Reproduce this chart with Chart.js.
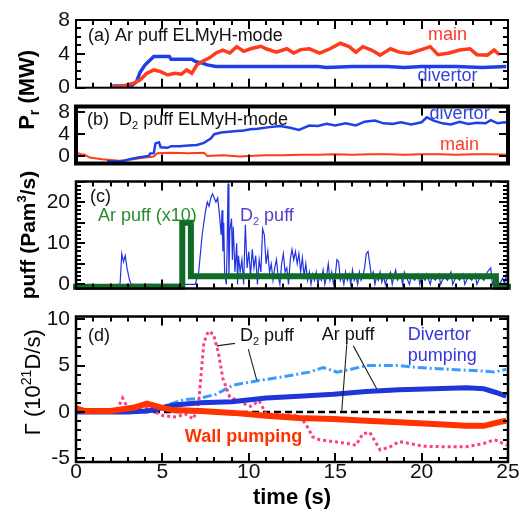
<!DOCTYPE html>
<html>
<head>
<meta charset="utf-8">
<script src="https://cdn.jsdelivr.net/npm/chart.js@4.4.1/dist/chart.umd.min.js"></script>
<style>
  body { margin: 0; background: #fff; }
  #wrap { position: relative; width: 532px; height: 510px; overflow: hidden; }
  canvas { position: absolute; left: 0; }
</style>
</head>
<body>
<div id="wrap">
  <canvas id="pa" width="532" height="175" style="top:0px"></canvas>
  <canvas id="pb" width="532" height="90" style="top:90px"></canvas>
  <canvas id="pc" width="532" height="140" style="top:165px"></canvas>
  <canvas id="pd" width="532" height="210" style="top:300px"></canvas>
</div>
<script>
// tick labels
const timeTicks = [0, 5, 10, 15, 20, 25];
const prTicks = [0, 4, 8];
const puffTicks = [0, 10, 20];
const gammaTicks = [-5, 0, 5, 10];

// (a) Ar puff: radiated power (MW)
const tA_main = [2.0, 2.7, 2.9, 3.3, 3.7, 4.1, 4.5, 4.9, 5.3, 5.7,
  6.1, 6.4, 6.7, 7.0, 7.3, 7.7, 8.1, 8.5, 8.9, 9.3,
  9.7, 10.1, 10.7, 11.0, 11.6, 12.2, 12.6, 13.0, 13.5, 14.1,
  14.7, 15.3, 15.8, 16.2, 16.6, 17.1, 17.6, 18.2, 18.7, 19.3,
  19.9, 20.5, 20.95, 21.6, 22.2, 22.8, 23.2, 23.8, 24.2, 24.5];
const pA_main = [0.1, 0.1, 0.3, 0.5, 0.9, 1.7, 2.1, 1.9, 1.5, 1.7,
  1.6, 2.1, 1.7, 2.7, 3.1, 3.5, 4.1, 4.45, 4.1, 4.85,
  4.3, 4.6, 4.9, 4.6, 4.2, 4.6, 4.1, 4.5, 4.6, 4.1,
  4.6, 5.25, 4.85, 4.2, 4.85, 4.45, 3.85, 4.6, 4.2, 4.05,
  4.45, 4.85, 3.9, 4.1, 4.45, 4.6, 3.9, 3.85, 4.45, 3.9];
const tA_div = [2.1, 3.2, 3.5, 3.7, 4.0, 4.2, 4.5, 5.4, 5.5, 6.7,
  6.9, 7.3, 7.6, 8.1, 10, 12, 14, 14.5, 16, 18,
  19, 20, 22, 23.5, 24.9];
const pA_div = [0.2, 0.2, 0.7, 1.8, 2.7, 3.1, 3.7, 3.7, 3.35, 3.35,
  3.1, 2.9, 2.7, 2.5, 2.5, 2.5, 2.5, 2.4, 2.5, 2.5,
  2.4, 2.5, 2.5, 2.4, 2.5];

// (b) D2 puff: radiated power (MW)
const tB_div = [1.8, 2.7, 3.1, 3.6, 4.2, 4.3, 4.5, 4.6, 4.8, 4.9,
  5.3, 5.5, 6.0, 6.5, 7.0, 7.4, 7.8, 8.0, 8.4, 9.0,
  9.7, 10.1, 10.5, 11.2, 11.8, 12.4, 12.9, 13.5, 14.0, 14.5,
  15.0, 15.6, 16.2, 16.7, 17.3, 17.8, 18.3, 18.8, 19.4, 20.0,
  20.3, 20.7, 21.2, 21.7, 22.2, 22.7, 23.2, 23.7, 24.0, 24.4,
  24.8, 25.0];
const pB_div = [-1.0, -1.0, -0.6, -0.3, 0.0, 0.45, 0.5, 2.3, 2.5, 1.6,
  1.5, 1.8, 1.8, 1.9, 2.0, 2.4, 3.2, 4.0, 4.3, 4.5,
  4.7, 4.9, 5.0, 5.3, 5.5, 5.2, 4.8, 5.6, 5.5, 5.9,
  5.6, 6.0, 5.6, 6.3, 6.5, 6.0, 5.9, 6.2, 5.8, 6.2,
  7.1, 6.5, 6.0, 5.8, 6.3, 5.9, 6.1, 6.0, 6.6, 6.0,
  6.2, 6.1];
const tB_main = [0, 0.3, 0.5, 0.8, 1.5, 2.5, 3.3, 4.0, 4.5, 4.7,
  5.5, 6.5, 7.4, 7.6, 8.5, 9.5, 10, 11, 12, 13,
  14, 15, 16, 17, 18, 19, 20, 21, 22, 23, 24, 25];
const pB_main = [0.6, 0.3, 0.2, -0.3, -0.6, -0.9, -0.6, -0.3, -0.1, 0.5,
  0.6, 0.5, 0.6, 0.0, 0.1, -0.1, 0.0, 0.1, 0.1, 0.2,
  0.2, 0.3, 0.2, 0.3, 0.3, 0.2, 0.3, 0.3, 0.2, 0.3, 0.3, 0.2];

// (c) gas puff (Pam3/s)
const tPuffAr = [0, 6.15, 6.15, 6.65, 6.65, 24.3, 24.3, 25];
const puffAr = [-0.6, -0.6, 15, 15, 2, 2, -0.6, -0.6];
const tPuffD2 = [2.4, 2.55, 2.65, 2.75, 2.85, 2.95, 3.1, 3.2, 6.9, 7.1,
  7.3, 7.5, 7.6, 7.7, 7.8, 7.9, 8.0, 8.1, 8.2, 8.3,
  8.4, 8.45, 8.5, 8.55, 8.6, 8.7, 8.75, 8.8, 8.85, 8.9,
  9.0, 9.05, 9.1, 9.2, 9.3, 9.35, 9.4, 9.5, 9.6, 9.7,
  9.8, 9.9, 10.0, 10.1, 10.2, 10.3, 10.4, 10.5, 10.6, 10.7,
  10.8, 10.9, 11.0, 11.1, 11.2, 11.3, 11.4, 11.5, 11.6, 11.7,
  11.8, 11.9, 12.0, 12.1, 12.2, 12.3, 12.4, 12.5, 12.6, 12.7,
  12.8, 12.9, 13.0, 13.1, 13.2, 13.3, 13.4, 13.5, 13.6, 13.7,
  13.8, 13.9, 14.0, 14.1, 14.2, 14.3, 14.4, 14.5, 14.6, 14.7,
  14.8, 14.9, 15.0, 15.1, 15.2, 15.3, 15.4, 15.5, 15.6, 15.7,
  15.8, 15.9, 16.0, 16.1, 16.2, 16.3, 16.4, 16.5, 16.6, 16.7,
  16.8, 16.9, 17.0, 17.1, 17.2, 17.3, 17.4, 17.5, 17.6, 17.7,
  17.8, 17.9, 18.0, 18.2, 18.3, 18.4, 18.5, 18.6, 18.8, 18.9,
  19.0, 19.1, 19.3, 19.4, 19.6, 19.8, 19.9, 20.0, 20.2, 20.3,
  20.5, 20.6, 20.8, 21.0, 21.1, 21.3, 21.5, 21.7, 21.8, 22.0,
  22.2, 22.4, 22.5, 22.7, 22.9, 23.1, 23.2, 23.4, 23.6, 23.8,
  24.0, 24.1, 24.3, 24.5, 24.7, 24.8, 24.9, 25.0];
const puffD2 = [0, 0, 7.5, 5.5, 7, 4, 1, 0, 0, 3,
  12, 18, 20, 19, 21, 22, 21, 20, 21, 17,
  12, 18, 8, 15, 3, 0, 10, 24.5, 2, 13,
  16, 6, 14, 3, 10, 0, 7, 3, 6, 0,
  14.5, 4, 8, 2, 8.5, 4, 7, 0, 6, 3,
  13.5, 12, 5, 8, 3, 5, 1, 4, 6, 2,
  0, 5, 7.5, 3, 4, 0, 6, 8.5, 6, 8,
  5, 7.5, 3, 6.5, 2, 5, 1, 3, 0, 2.5,
  1, 3, 0, 2, 1, 3.5, 0, 2, 5, 1,
  3, 0, 2, 6, 5.5, 1, 2, 0, 3, 1,
  2.5, 0, 3.5, 1, 2, 0, 3, 1, 2, 4,
  7.5, 8, 5, 2, 3, 0, 2, 1, 3, 0.5,
  2, 0, 1.5, 3, 0, 2, 3.5, 1, 2.5, 0,
  3, 2, 0, 2, 1, 2.5, 0, 2, 1, 2.5,
  0, 2, 1, 2.5, 0, 2, 1, 3, 0, 2,
  1, 2.5, 0, 2, 1, 2.5, 0, 2, 1, 3,
  4, 0, 2, 0, 1.5, 0, 2.5, 1];

// (d) particle flux (10^21 D/s)
const tWallAr = [0, 0.5, 2, 3.3, 4.1, 4.9, 5.6, 7.2, 9.1, 11.0,
  12.9, 14.9, 16.8, 18.7, 20.7, 22.6, 23.6, 24.5, 24.9];
const wallAr = [0.4, 0.1, 0.1, 0.45, 0.9, 0.5, 0.2, 0.1, -0.1, -0.4,
  -0.65, -0.75, -0.95, -1.1, -1.3, -1.5, -1.5, -1.1, -0.95];
const tDivAr = [0, 3, 4, 4.5, 5.25, 6, 7.2, 9, 11.0, 12.9,
  14.9, 16.8, 18.7, 20.7, 22.6, 23.6, 24.3, 24.9];
const divAr = [0, 0, 0.1, 0.2, 0.6, 0.8, 1.0, 1.1, 1.5, 1.7,
  1.9, 2.2, 2.4, 2.5, 2.6, 2.5, 2.1, 1.7];
const tDivD2 = [4.5, 5.05, 6.2, 7.2, 8.1, 9.1, 10.6, 12.0, 13.5, 14.3,
  15.1, 15.9, 16.8, 17.8, 18.7, 19.7, 20.6, 21.6, 22.6, 23.6,
  24.2, 24.9];
const divD2 = [0.2, 0.6, 1.3, 1.5, 1.9, 2.9, 3.4, 3.8, 4.3, 4.8,
  4.3, 4.6, 5.0, 5.0, 5.0, 4.8, 4.7, 4.6, 4.5, 4.4,
  4.3, 4.6];
const tWallD2 = [0, 2.3, 2.7, 3.0, 3.5, 4.1, 5.05, 5.8, 6.3, 6.8,
  7.1, 7.4, 7.66, 7.95, 8.24, 8.5, 8.9, 9.5, 10.1, 10.6,
  11.0, 12.0, 12.9, 13.3, 13.7, 14.1, 14.9, 15.7, 16.2, 16.6,
  17.0, 17.6, 18.2, 18.7, 19.3, 20.1, 21.3, 22.6, 23.6, 24.2,
  24.5, 24.9];
const wallD2 = [0, 0, 1.5, 0.4, 0.2, 0.4, -0.4, -0.55, -0.2, -0.75,
  1.0, 7.5, 8.7, 8.4, 6.4, 3.6, 1.6, 1.1, 0.6, 1.2,
  -0.2, -0.3, -0.4, -1.3, -2.7, -3.0, -3.2, -3.4, -3.6, -2.35,
  -2.2, -4.1, -3.75, -3.2, -3.4, -3.7, -3.75, -3.75, -3.4, -3.0,
  -3.2, -3.6];
const tZero = [0, 25];
const zero = [0, 0];

const FONT = '"Liberation Sans", Arial, Helvetica, sans-serif';
Chart.defaults.font.family = FONT;
Chart.defaults.color = '#111';

const pts = (t, v) => t.map((x, i) => ({ x, y: v[i] }));

function line(t, v, color, width, extra) {
  return Object.assign({ data: pts(t, v), borderColor: color, borderWidth: width,
    fill: false, pointRadius: 0, tension: 0 }, extra || {});
}

// text with sub/superscript pieces
function richText(ctx, parts, x, y, s) {
  const size = s.size || 18, weight = s.weight || 'normal';
  const f = k => `${weight} ${k ? Math.round(size * 0.62) : size}px ${FONT}`;
  let w = 0;
  parts.forEach(([t, k]) => { ctx.font = f(k); w += ctx.measureText(t).width; });
  let cx = s.align === 'left' ? x : x - w / 2;
  ctx.fillStyle = s.color || '#111';
  ctx.textAlign = 'left';
  ctx.textBaseline = 'middle';
  parts.forEach(([t, k]) => {
    ctx.font = f(k);
    const dy = k === 'sub' ? size * 0.32 : k === 'sup' ? -size * 0.32 : 0;
    ctx.fillText(t, cx, y + dy);
    cx += ctx.measureText(t).width;
  });
}

function steps(min, max, step) {
  const out = [];
  const first = Math.ceil(min / step - 1e-6);
  const last = Math.floor(max / step + 1e-6);
  for (let i = first; i <= last; i++) out.push(i * step);
  return out;
}

// frame, inward ticks, notes and side title for one panel
function decor(cfg) {
  return {
    id: 'decor',
    afterDraw(chart) {
      const ctx = chart.ctx;
      const a = chart.chartArea;
      const xs = chart.scales.x, ys = chart.scales.y;
      ctx.save();
      ctx.strokeStyle = '#222';
      ctx.lineWidth = 1.1;
      (cfg.lines || []).forEach(([x1, y1, x2, y2]) => {
        ctx.beginPath();
        ctx.moveTo(xs.getPixelForValue(x1), ys.getPixelForValue(y1));
        ctx.lineTo(xs.getPixelForValue(x2), ys.getPixelForValue(y2));
        ctx.stroke();
      });
      (cfg.notes || []).forEach(n =>
        richText(ctx, n.parts, xs.getPixelForValue(n.x), ys.getPixelForValue(n.y), n));

      ctx.lineWidth = cfg.frame;
      ctx.strokeStyle = '#000';
      ctx.strokeRect(a.left, a.top, a.width, a.height);

      // inward tick marks on all four sides
      const tk = cfg.ticks;
      ctx.fillStyle = '#000';
      const xMarks = (step, len) => steps(0, 25, step).forEach(v => {
        const px = Math.round(xs.getPixelForValue(v));
        ctx.fillRect(px - 1, a.top, 2, len);
        ctx.fillRect(px - 1, a.bottom - len, 2, len);
      });
      const yMarks = (step, len) => steps(cfg.yMin, cfg.yMax, step).forEach(v => {
        const py = Math.round(ys.getPixelForValue(v));
        ctx.fillRect(a.left, py - 1, len, 2);
        ctx.fillRect(a.right - len, py - 1, len, 2);
      });
      if (tk.xMinor) xMarks(tk.xMinor, 5);
      xMarks(tk.xMajor, 9);
      if (tk.yMinor) yMarks(tk.yMinor, 5);
      yMarks(tk.yMajor, 9);

      if (cfg.side) {
        const s = cfg.side;
        ctx.translate(s.x, (a.top + a.bottom) / 2 + s.dy);
        ctx.rotate(-Math.PI / 2);
        richText(ctx, s.parts, 0, 0, s);
      }
      ctx.restore();
    }
  };
}

function yAxis(min, max, ticks) {
  return {
    type: 'linear', min, max,
    afterBuildTicks: s => { s.ticks = ticks.map(v => ({ value: v })); },
    afterFit: s => { s.width = 76; },
    grid: { display: false, drawTicks: false },
    border: { display: false },
    ticks: { padding: 6, autoSkip: false, color: '#111', font: { size: 21, lineHeight: 1 } }
  };
}

const hiddenX = { type: 'linear', min: 0, max: 25, display: false };

function panel(id, cfg) {
  return new Chart(document.getElementById(id), {
    type: 'line',
    data: { datasets: cfg.datasets },
    options: {
      responsive: false,
      animation: false,
      events: [],
      layout: { autoPadding: false, padding: { left: 0, right: 24, top: cfg.padTop, bottom: cfg.padBottom } },
      plugins: { legend: { display: false }, tooltip: { enabled: false } },
      scales: { x: cfg.x || hiddenX, y: yAxis(cfg.yMin, cfg.yMax, cfg.yTicks) }
    },
    plugins: [decor(cfg)]
  });
}

panel('pa', {
  padTop: 20, padBottom: 87.3, yMin: 0, yMax: 8, yTicks: prTicks, frame: 2,
  ticks: { xMinor: 1, xMajor: 5, yMinor: 1, yMajor: 4 },
  datasets: [
    line(tA_main, pA_main, '#ff3b1c', 3.5),
    line(tA_div, pA_div, '#1f3fe6', 3.5)
  ],
  notes: [
    { x: 0.69, y: 6.1, parts: [['(a) Ar puff ELMyH-mode']], align: 'left', size: 18 },
    { x: 21.5, y: 6.2, parts: [['main']], color: '#ff3a2a', size: 18 },
    { x: 21.5, y: 1.4, parts: [['divertor']], color: '#3344dd', size: 18 }
  ],
  side: { x: 28, dy: 36, parts: [['P'], ['r', 'sub'], [' (MW)']], size: 22, weight: 'bold', color: '#000' }
});

panel('pb', {
  padTop: 12, padBottom: 11, yMin: -1.4, yMax: 9.1, yTicks: prTicks, frame: 4,
  ticks: { xMajor: 5, yMajor: 4 },
  datasets: [
    line(tB_div, pB_div, '#2040e8', 2.5),
    line(tB_main, pB_main, '#ff3b1c', 2)
  ],
  notes: [
    { x: 0.64, y: 6.6, parts: [['(b)  D'], ['2', 'sub'], [' puff ELMyH-mode']], align: 'left', size: 18 },
    { x: 22.2, y: 7.8, parts: [['divertor']], color: '#3344dd', size: 18 },
    { x: 22.2, y: 2.0, parts: [['main']], color: '#ff3a2a', size: 18 }
  ]
});

panel('pc', {
  padTop: 12, padBottom: 8.5, yMin: -1, yMax: 25, yTicks: puffTicks, frame: 2.5,
  ticks: { xMinor: 1, xMajor: 5, yMinor: 1, yMajor: 5 },
  datasets: [
    line(tPuffAr, puffAr, '#0f6b26', 6, { clip: false, borderCapStyle: 'square' }),
    line(tPuffD2, puffD2, '#2233e0', 1.2)
  ],
  notes: [
    { x: 0.81, y: 21.3, parts: [['(c)']], align: 'left', size: 18 },
    { x: 1.27, y: 16.6, parts: [['Ar puff (x10)']], align: 'left', color: '#2a8a2a', size: 18 },
    { x: 9.49, y: 16.6, parts: [['D'], ['2', 'sub'], [' puff']], align: 'left', color: '#5040d0', size: 18 }
  ],
  side: { x: 29, dy: 0, parts: [['puff (Pam'], ['3', 'sup'], ['/s)']], size: 21, weight: 'bold', color: '#000' }
});

panel('pd', {
  padTop: 13, padBottom: 0, yMin: -5.4, yMax: 10.3, yTicks: gammaTicks, frame: 2.5,
  ticks: { xMinor: 1, xMajor: 5, yMinor: 1, yMajor: 5 },
  x: {
    type: 'linear', min: 0, max: 25,
    afterBuildTicks: s => { s.ticks = timeTicks.map(v => ({ value: v })); },
    afterFit: s => { s.height = 48; },
    grid: { display: false, drawTicks: false },
    border: { display: false },
    ticks: { padding: 0, maxRotation: 0, autoSkip: false, color: '#111', font: { size: 21, lineHeight: 1 } },
    title: { display: true, text: 'time (s)', color: '#000', font: { size: 22, weight: 'bold', lineHeight: 1 }, padding: { top: 0, bottom: 1 } }
  },
  datasets: [
    line(tWallAr, wallAr, '#ff3300', 6),
    line(tDivAr, divAr, '#1e35d8', 5),
    line(tWallD2, wallD2, '#ff3a8c', 3, { borderDash: [3, 3] }),
    line(tDivD2, divD2, '#3a9bff', 3, { borderDash: [9, 3, 2, 3] }),
    line(tZero, zero, '#000', 2.5, { borderDash: [7, 4] })
  ],
  notes: [
    { x: 0.69, y: 8.2, parts: [['(d)']], align: 'left', size: 18 },
    { x: 9.49, y: 8.2, parts: [['D'], ['2', 'sub'], [' puff']], align: 'left', size: 18 },
    { x: 14.22, y: 8.35, parts: [['Ar puff']], align: 'left', size: 18 },
    { x: 19.2, y: 8.35, parts: [['Divertor']], align: 'left', color: '#3535d8', size: 18 },
    { x: 19.2, y: 6.07, parts: [['pumping']], align: 'left', color: '#3535d8', size: 18 },
    { x: 6.3, y: -2.7, parts: [['Wall pumping']], align: 'left', color: '#ff3300', size: 18, weight: 'bold' }
  ],
  lines: [
    [9.2, 7.4, 8.14, 7.13],
    [9.97, 6.77, 10.46, 3.44],
    [15.67, 7.3, 15.38, 0.1],
    [16.05, 7.13, 17.4, 2.5]
  ],
  side: { x: 34, dy: -7, parts: [['\u0393 (10'], ['21', 'sup'], ['D/s)']], size: 22, color: '#000' }
});
</script>
</body>
</html>
